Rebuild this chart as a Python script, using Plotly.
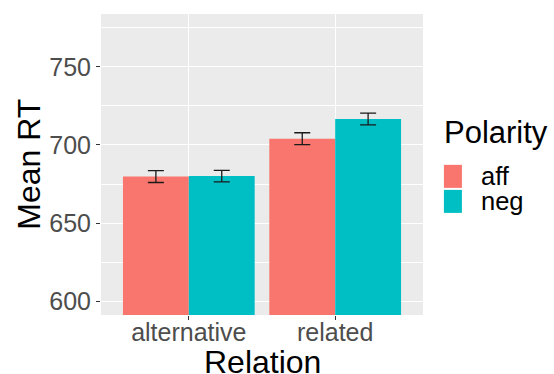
import plotly.graph_objects as go

relations = ["alternative", "related"]
polarity = ["aff", "neg"]
mean_aff = [679.8, 704.0]
mean_neg = [680.1, 716.6]
se_aff = [3.8, 3.8]
se_neg = [3.7, 3.7]
colors = ["#F8766D", "#00BFC4"]
yticks = [600, 650, 700, 750]

W, H = 554, 374
PL, PR, PT, PB = 100.7, 422.6, 14.3, 315.0
pw, ph = PR - PL, PB - PT

def px(x):
    return (x - PL) / pw

def py(y):
    return (PB - y) / ph

FONT = "Liberation Sans"

fig = go.Figure()
for name, means, ses, col in zip(polarity, [mean_aff, mean_neg], [se_aff, se_neg], colors):
    fig.add_trace(go.Bar(
        x=relations, y=means, name=name, marker=dict(color=col, line=dict(width=0)),
        error_y=dict(type="data", array=ses, visible=True, color="#1a1a1a",
                     thickness=1.3, width=8),
        showlegend=False,
    ))

fig.update_layout(
    width=W, height=H,
    margin=dict(l=PL, r=W - PR, t=PT, b=H - PB, pad=0),
    paper_bgcolor="white", plot_bgcolor="#EBEBEB",
    barmode="group", bargap=0.1, bargroupgap=0,
    font=dict(family=FONT, color="#4D4D4D"),
    showlegend=False,
)
fig.update_xaxes(
    range=[-0.6, 1.6], showgrid=True, gridcolor="white", gridwidth=1.2,
    ticks="outside", ticklen=4, tickwidth=1, tickcolor="#333333",
    tickfont=dict(size=25, color="#4D4D4D", family=FONT), zeroline=False,
    showline=False, ticklabelstandoff=-9,
)
fig.update_yaxes(
    range=[591.25, 783.75], tickvals=yticks, showgrid=True, gridcolor="white",
    gridwidth=1.2, ticks="outside", ticklen=4, tickwidth=1, tickcolor="#333333",
    tickfont=dict(size=25, color="#4D4D4D", family=FONT), zeroline=False,
    showline=False,
    minor=dict(tickvals=[625, 675, 725, 775], showgrid=True, gridcolor="white",
               gridwidth=0.6, ticks=""),
)

# axis titles
fig.add_annotation(text="Relation", xref="paper", yref="paper", x=0.5, y=py(362),
                   xanchor="center", yanchor="middle", showarrow=False,
                   font=dict(size=32, color="black", family=FONT))
fig.add_annotation(text="Mean RT", xref="paper", yref="paper", x=px(28), y=0.5,
                   xanchor="center", yanchor="middle", showarrow=False, textangle=-90,
                   font=dict(size=32, color="black", family=FONT))

# legend
fig.add_annotation(text="Polarity", xref="paper", yref="paper", x=px(441.5), y=py(133),
                   xanchor="left", yanchor="middle", showarrow=False,
                   font=dict(size=31, color="black", family=FONT))
key_tops = [165.0, 190.0]
for name, col, top in zip(polarity, colors, key_tops):
    fig.add_shape(type="rect", xref="paper", yref="paper",
                  x0=px(443.5), x1=px(461.5), y0=py(top), y1=py(top + 23),
                  fillcolor=col, line=dict(width=0))
    fig.add_annotation(text=name, xref="paper", yref="paper", x=px(478.5), y=py(top + 11.5),
                       xanchor="left", yanchor="middle", showarrow=False,
                       font=dict(size=25.5, color="black", family=FONT))

fig.write_html("out.html")
